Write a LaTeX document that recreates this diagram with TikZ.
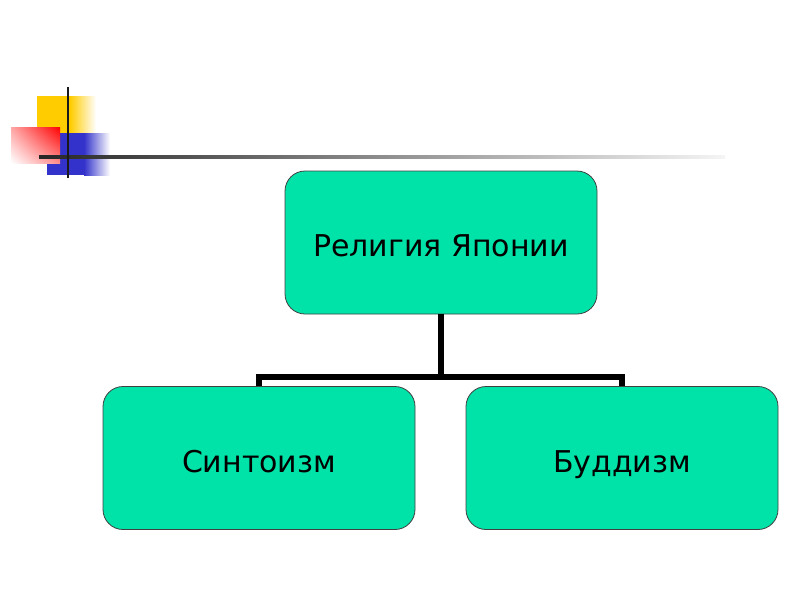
\documentclass[tikz,border=0pt]{standalone}
\usepackage{fontspec}
\setmainfont{DejaVu Sans}
\usetikzlibrary{shadings}
\definecolor{boxfill}{RGB}{0,227,168}
\definecolor{ydeco}{RGB}{255,204,0}
\definecolor{bdeco}{RGB}{51,51,204}
\begin{document}
\begin{tikzpicture}[x=1pt,y=-1pt,
  box/.style={draw=black!75,line width=0.8pt,fill=boxfill,rounded corners=20pt,
    minimum width=312pt,minimum height=143pt,inner sep=0pt,
    text height=28pt,text depth=0pt,
    font=\fontsize{30}{34}\selectfont},
  link/.style={line width=6pt,black}]
\useasboundingbox (0,0) rectangle (800,600);
% decoration
\fill[ydeco] (37,96) rectangle (70,150);
\shade[left color=ydeco,right color=white] (70,96) rectangle (96,150);
\fill[bdeco] (47,133) rectangle (84,175);
\shade[left color=bdeco,right color=white] (84,133) rectangle (110,175);
\shade[upper right=red,upper left=red!35,lower right=red!45,lower left=white] (11,163) rectangle (60,127);
\shade[left color=black!85,right color=black!4] (39,155.5) rectangle (725,158.5);
\draw[black!90,line width=2pt] (68,87) -- (68,178);
% nodes
\node[box] (top) at (441,242.5) {Религия Японии};
\node[box] (left) at (259,458) {Синтоизм};
\node[box] (right) at (622,458) {Буддизм};
\coordinate (j) at (441,377);
\draw[link] (top.south) -- (j);
\draw[link] (left.north) -- (left.north |- j) -- (right.north |- j) -- (right.north);
\end{tikzpicture}
\end{document}
